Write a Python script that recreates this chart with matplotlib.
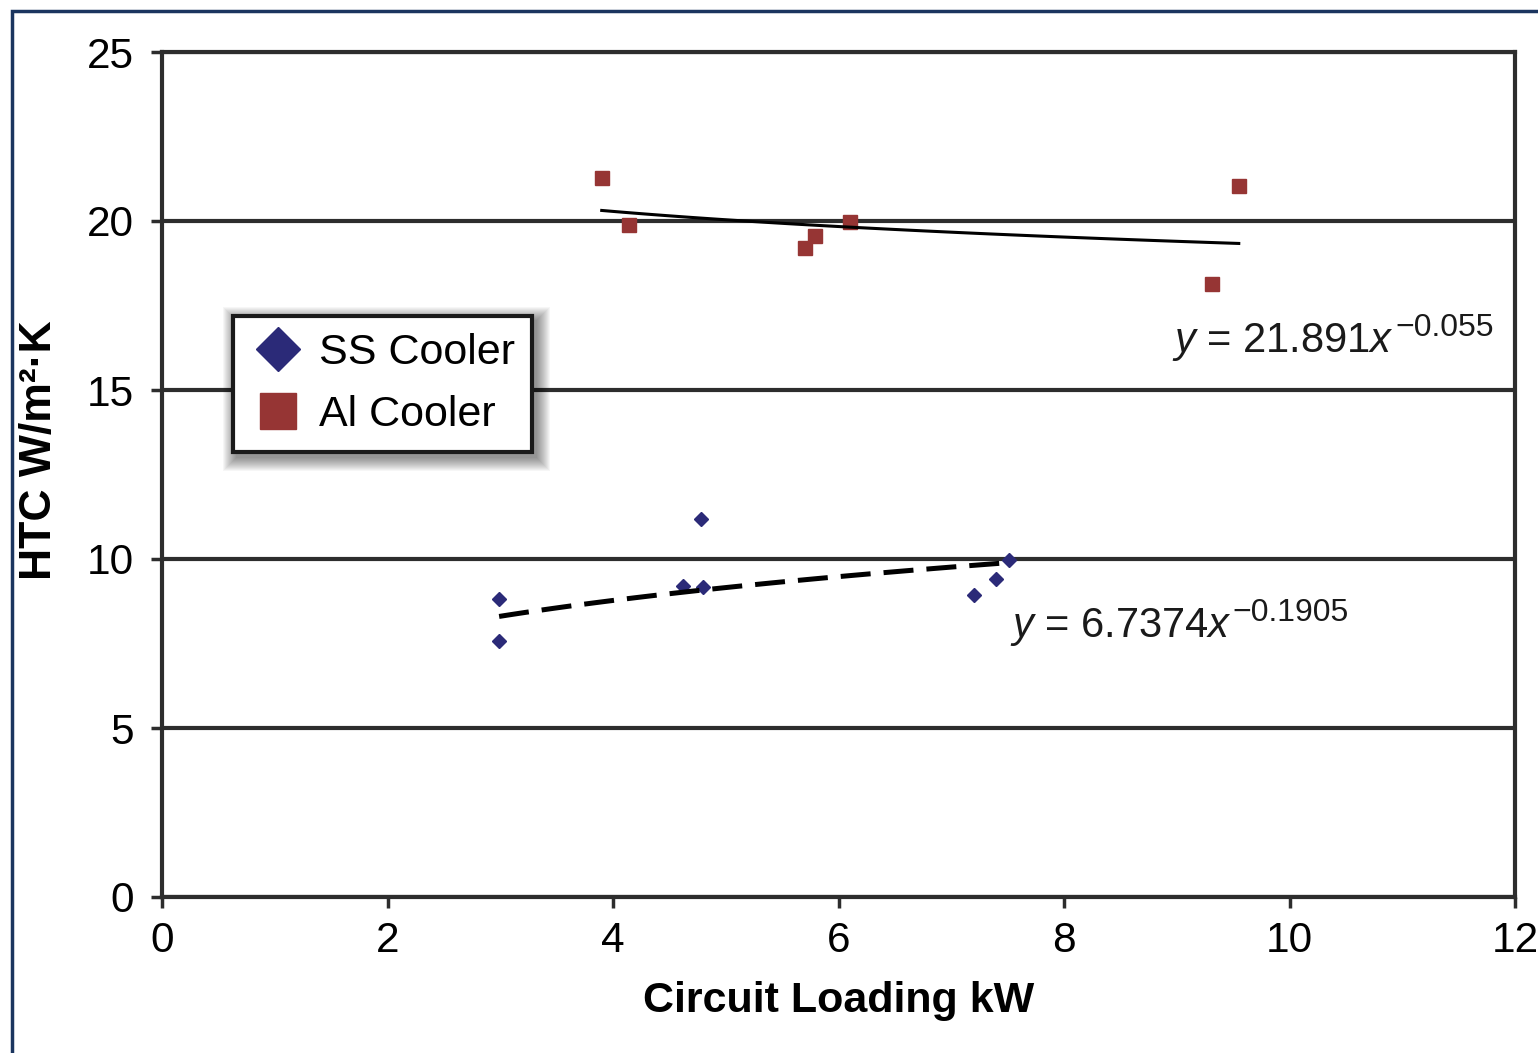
import numpy as np
import matplotlib
matplotlib.use("Agg")
import matplotlib.pyplot as plt
from matplotlib.lines import Line2D
from matplotlib.patches import Rectangle
from matplotlib.transforms import IdentityTransform

plt.rcParams["font.family"] = ["Liberation Sans", "DejaVu Sans"]
plt.rcParams["mathtext.fontset"] = "custom"
plt.rcParams["mathtext.rm"] = "Liberation Sans"
plt.rcParams["mathtext.it"] = "Liberation Sans:italic"

# Measured heat transfer coefficients vs. circuit loading
ss_load = [2.99, 2.99, 4.78, 4.62, 4.80, 7.20, 7.40, 7.51]
ss_htc = [8.83, 7.57, 11.17, 9.20, 9.16, 8.93, 9.40, 9.97]
al_load = [3.90, 4.14, 5.70, 5.79, 6.10, 9.31, 9.55]
al_htc = [21.26, 19.88, 19.19, 19.56, 19.98, 18.14, 21.03]

# Power-law trend lines y = a * x^b
al_coef, al_exp = 21.891, -0.055
ss_coef, ss_exp = 6.7374, 0.1905

x_ticks = [0, 2, 4, 6, 8, 10, 12]
y_ticks = [0, 5, 10, 15, 20, 25]

ss_color = "#2b2a78"
al_color = "#963534"
line_col = "#2d2d2d"

W, H = 1538, 1053
fig = plt.figure(figsize=(W / 100, H / 100), dpi=100)
ax = fig.add_axes([162 / W, 156 / H, 1353 / W, 845 / H])

ax.set_xlim(0, 12)
ax.set_ylim(0, 25)
ax.set_xticks(x_ticks)
ax.set_yticks(y_ticks)
ax.tick_params(axis="both", labelsize=30.5, direction="out", length=8,
               width=2.5, color=line_col)
ax.tick_params(axis="x", pad=9)
ax.tick_params(axis="y", pad=12)
for s in ax.spines.values():
    s.set_color(line_col)
    s.set_linewidth(3)
ax.yaxis.grid(True, color=line_col, linewidth=3)
ax.set_axisbelow(True)

# Scatter points
ax.plot(ss_load, ss_htc, linestyle="none", marker="D", markersize=7.5,
        color=ss_color, zorder=3)
ax.plot(al_load, al_htc, linestyle="none", marker="s", markersize=9.5,
        color=al_color, zorder=3)

# Trend lines
xa = np.linspace(min(al_load), max(al_load), 60)
ax.plot(xa, al_coef * xa ** al_exp, color="black", linewidth=2.2, zorder=4)
xs = np.linspace(min(ss_load), max(ss_load), 60)
ax.plot(xs, ss_coef * xs ** ss_exp, color="black", linewidth=3.6,
        dashes=(6, 2.6), zorder=4)

# Trend-line equations: main part plus a raised exponent
eq_main = [(8.96, 16.12, "$y$ = 21.891$x$", "\u22120.055"),
           (7.52, 7.69, "$y$ = 6.7374$x$", "\u22120.1905")]
eq_texts = []
for ex, ey, main, sup in eq_main:
    t = ax.text(ex, ey, main, fontsize=30, ha="left", va="baseline",
                color="#1a1a1a")
    eq_texts.append((t, ex, ey, sup))

ax.set_xlabel("Circuit Loading kW", fontsize=31, fontweight="bold", labelpad=15)
ax.set_ylabel("HTC W/m²·K", fontsize=32, fontweight="bold")
ax.yaxis.set_label_coords((60 - 162) / 1353, (897 - 450) / 845)

handles = [
    Line2D([], [], linestyle="none", marker="D", markersize=22, color=ss_color),
    Line2D([], [], linestyle="none", marker="s", markersize=26, color=al_color),
]
leg = ax.legend(handles, ["SS Cooler", "Al Cooler"], loc="upper left",
                bbox_to_anchor=(71 / 1353, 581 / 845), borderaxespad=0,
                fontsize=31, fancybox=False, frameon=True, framealpha=1,
                edgecolor="#1a1a1a", handletextpad=0.3, handlelength=1.3,
                labelspacing=0.5, borderpad=0.4)
leg.get_frame().set_linewidth(3)
leg.set_zorder(6)

fig.canvas.draw()

# Exponents placed right after each equation
for t, ex, ey, sup in eq_texts:
    bb = t.get_window_extent()
    base = ax.transData.transform((ex, ey))[1]
    ax.text(bb.x1 + 1, base + 16, sup, fontsize=23, ha="left",
            va="baseline", color="#1a1a1a", transform=IdentityTransform())

# Soft drop shadow behind the legend box
lb = leg.get_frame().get_window_extent()
for i in range(14):
    g = 14 - i
    ax.add_artist(Rectangle((lb.x0 - g + 4, lb.y0 - g - 5),
                            lb.width + 2 * g, lb.height + 2 * g,
                            transform=IdentityTransform(), facecolor="black",
                            edgecolor="none", alpha=0.035, zorder=5,
                            clip_on=False))

# Outer page frame
fig.patches.append(Rectangle((11.5, -20), W + 40, H - 11 + 20,
                             transform=IdentityTransform(), fill=False,
                             edgecolor="#1b355f", linewidth=2.5))

fig.savefig("out.png", dpi=100)
